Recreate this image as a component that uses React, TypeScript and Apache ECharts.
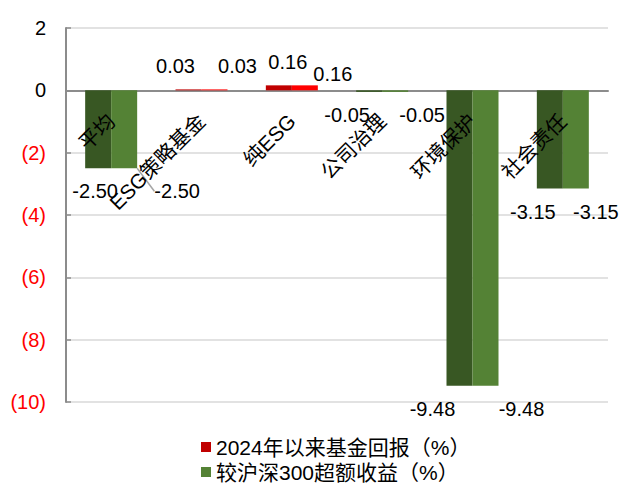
import React, { useEffect, useRef } from "react";
import * as echarts from "echarts";

const categories = ["平均", "ESG策略基金", "纯ESG", "公司治理", "环境保护", "社会责任"];
const fundReturn = [-2.5, 0.03, 0.16, -0.05, -9.48, -3.15];
const excessReturn = [-2.5, 0.03, 0.16, -0.05, -9.48, -3.15];
const seriesNames = ["2024年以来基金回报（%）", "较沪深300超额收益（%）"];
const yMin = -10;
const yMax = 2;
const yStep = 2;

// horizontal / vertical nudges of the value labels (as placed by hand in the original)
const fundLabelShift = [-3, -13, 9, -22, -27, -17];
const fundLabelLift = [0, 0, 0, 0, 0, 0];
const excessLabelShift = [53, 23, 28, 27, 36, 20];
const excessLabelLift = [0, 0, 12, 0, 0, 0];
const excessLeaderLine = [true, false, false, false, false, false];

const FONT = "'Liberation Sans', Arial, 'Noto Sans CJK SC', sans-serif";
const GRID_TOP = 28;
const GRID_BOTTOM = 87;
const CHART_H = 489;

function makeSeries(
  name: string,
  values: number[],
  posColor: string,
  negColor: string,
  legendColor: string,
  shiftX: number[],
  shiftY: number[],
  leader: boolean[] | null
) {
  return {
    name,
    type: "bar",
    barWidth: 26,
    barGap: "0%",
    xAxisIndex: 0,
    z: 2,
    itemStyle: { color: legendColor },
    labelLayout: (p: any) => ({ dx: shiftX[p.dataIndex], dy: shiftY[p.dataIndex] }),
    labelLine: { show: false, lineStyle: { color: "#a6a6a6", width: 1.5 } },
    data: values.map((v, i) => ({
      value: v,
      itemStyle: { color: v >= 0 ? posColor : negColor },
      labelLine: { show: !!(leader && leader[i]), lineStyle: { color: "#a6a6a6", width: 1.5 } },
      label: {
        show: true,
        position: v >= 0 ? "top" : "bottom",
        distance: 13,
        formatter: () => v.toFixed(2),
        color: "#000",
        fontSize: 20,
        fontFamily: FONT,
      },
    })),
  };
}

export default function App() {
  const ref = useRef<HTMLDivElement>(null);
  useEffect(() => {
    if (!ref.current) return;
    const chart = echarts.init(ref.current, null, { renderer: "svg" });
    const plotH = CHART_H - GRID_TOP - GRID_BOTTOM;
    const belowZero = (plotH * (0 - yMin)) / (yMax - yMin);
    chart.setOption({
      animation: false,
      backgroundColor: "#fff",
      textStyle: { fontFamily: FONT },
      grid: {
        left: 66,
        right: 12,
        top: GRID_TOP,
        bottom: GRID_BOTTOM,
        containLabel: false,
        outerBoundsMode: "none",
      },
      legend: {
        orient: "vertical",
        left: 196,
        top: 431,
        itemWidth: 10,
        itemHeight: 10,
        itemGap: 3,
        icon: "rect",
        textStyle: { fontSize: 21, color: "#000", fontFamily: FONT, lineHeight: 22 },
        data: seriesNames,
      },
      xAxis: [
        {
          type: "category",
          data: categories,
          position: "bottom",
          axisLine: { onZero: true, lineStyle: { color: "#8c8c8c", width: 2 } },
          axisTick: { show: false },
          axisLabel: { show: false },
        },
        {
          type: "category",
          data: categories,
          position: "bottom",
          offset: -belowZero,
          z: 10,
          axisLine: { show: false, onZero: false },
          axisTick: { show: false },
          axisLabel: {
            interval: 0,
            rotate: 45,
            margin: 27,
            fontSize: 20.5,
            color: "#000",
            fontFamily: FONT,
          },
        },
      ],
      yAxis: {
        type: "value",
        min: yMin,
        max: yMax,
        interval: yStep,
        axisLine: { show: true, lineStyle: { color: "#8c8c8c", width: 2 } },
        axisTick: { show: true, inside: true, length: 5, lineStyle: { color: "#8c8c8c", width: 1.5 } },
        splitLine: { lineStyle: { color: "#d9d9d9", width: 1.5 } },
        axisLabel: {
          margin: 20,
          fontSize: 20,
          fontFamily: FONT,
          formatter: (v: number) => (v < 0 ? `{r|(${-v})}` : `{b|${v}}`),
          rich: {
            r: { color: "#ff0000", fontSize: 20, fontFamily: FONT },
            b: { color: "#000", fontSize: 20, fontFamily: FONT },
          },
        },
      },
      series: [
        makeSeries(seriesNames[0], fundReturn, "#c00000", "#385723", "#c00000", fundLabelShift, fundLabelLift, null),
        makeSeries(seriesNames[1], excessReturn, "#ff0000", "#548235", "#548235", excessLabelShift, excessLabelLift, excessLeaderLine),
      ],
    });
    return () => chart.dispose();
  }, []);
  return (
    <div
      ref={ref}
      style={{ position: "absolute", left: 0, top: 0, width: 620, height: CHART_H }}
    />
  );
}
